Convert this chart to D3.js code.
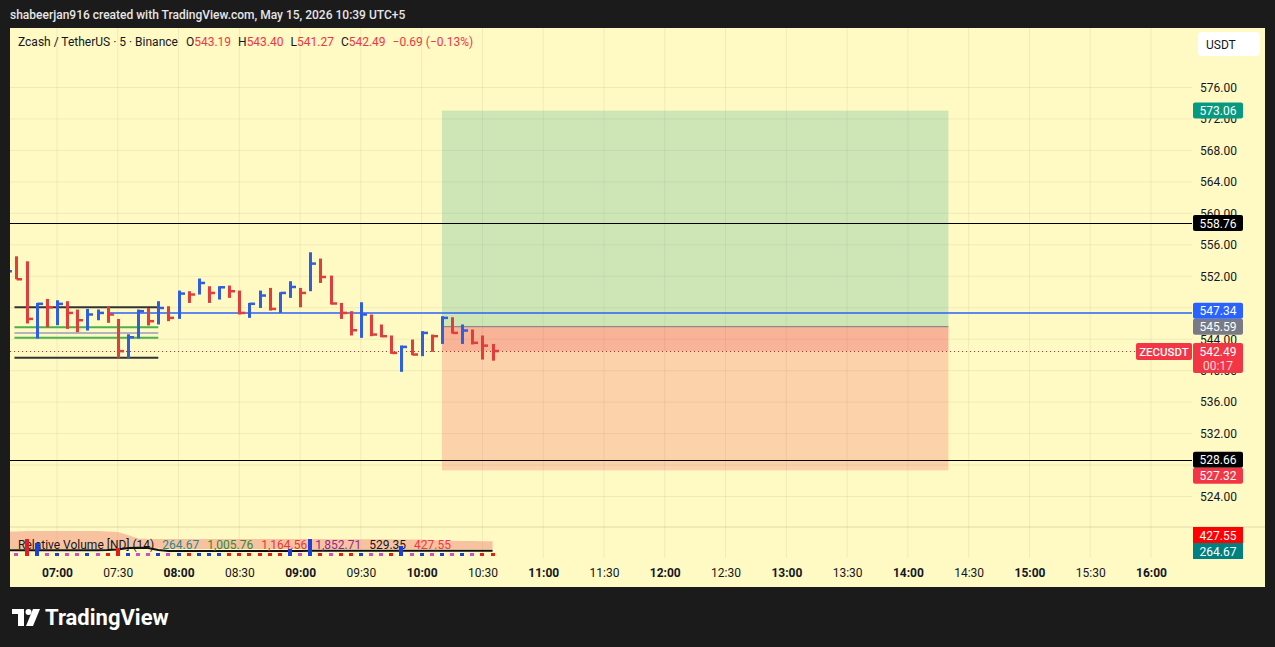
<!DOCTYPE html>
<html>
<head>
<meta charset="utf-8">
<script src="https://cdn.jsdelivr.net/npm/d3@7"></script>
<style>
  body { margin: 0; background: #1b1b1b; }
  svg { display: block; font-family: Roboto, "Noto Sans", sans-serif; }
</style>
</head>
<body>
<div id="vis"></div>
<script>
// Chart size
const width = 1275;
const height = 647;

// 5 minute HLC bars, ZEC/USDT
const barTimes = ['06:35','06:40','06:45','06:50','06:55','07:00','07:05','07:10','07:15','07:20',
    '07:25','07:30','07:35','07:40','07:45','07:50','07:55','08:00','08:05','08:10',
    '08:15','08:20','08:25','08:30','08:35','08:40','08:45','08:50','08:55','09:00',
    '09:05','09:10','09:15','09:20','09:25','09:30','09:35','09:40','09:45','09:50',
    '09:55','10:00','10:05','10:10','10:15','10:20','10:25','10:30','10:35'];
const highs = [553.30,554.54,553.90,548.61,549.12,548.95,548.83,547.77,547.85,547.77,
    548.19,546.58,544.63,547.77,547.97,548.83,548.19,550.18,550.10,551.71,
    550.73,550.73,550.82,550.18,548.61,550.18,550.52,549.97,551.37,550.52,
    555.05,554.25,552.09,548.61,547.56,548.70,547.14,545.87,544.47,543.20,
    543.96,545.02,544.59,546.92,546.79,545.87,545.23,544.47,543.40];
const lows = [551.90,551.62,546.00,544.09,545.52,545.78,545.31,544.89,545.10,546.41,
    546.08,541.63,541.59,544.09,545.74,545.87,546.29,546.58,548.61,549.68,
    548.61,549.04,549.25,547.14,546.71,547.97,547.64,547.34,549.25,548.06,
    550.10,551.15,548.41,546.58,544.47,544.17,544.38,544.25,542.14,539.85,
    541.97,541.84,542.39,543.40,544.72,543.40,543.33,541.41,541.27];
const closes = [552.63,551.62,546.58,548.50,548.06,548.49,547.34,546.41,547.14,547.34,
    547.14,542.48,544.25,547.56,546.29,547.97,546.71,549.80,549.68,551.15,
    549.88,550.60,550.10,547.34,548.50,549.55,547.85,549.88,550.64,549.88,
    553.61,551.91,548.54,547.34,545.14,547.14,544.59,544.38,542.26,543.02,
    542.05,544.80,544.38,546.71,544.80,545.10,543.54,543.18,542.49];
const priorClose = 552.20;

// Relative volume pane
const relVolume = [0.3,0.3,1.7,1.3,0.3,0.3,0.3,0.3,0.3,0.3,
    0.3,0.8,0.3,0.3,0.3,0.3,0.3,0.3,0.3,0.3,
    0.3,0.3,0.3,0.3,0.3,0.3,0.3,0.3,0.7,0.3,
    1.7,0.3,0.3,0.3,0.3,0.3,0.3,0.3,0.3,1.0,
    0.3,0.3,0.3,0.3,0.3,0.3,0.3,0.3,0.3];
const volKind = ['low','low','down','up','low','up','low','low','up','low',
    'down','down','up','low','low','up','low','up','down','up',
    'up','up','down','down','down','down','down','down','up','low',
    'up','down','low','down','down','up','low','low','down','up',
    'low','up','low','up','low','up','low','down','down'];
const bandUpper = [2.45,2.45,2.5,2.5,2.5,2.5,2.5,2.5,2.5,2.5,
    2.45,2.4,2.1,1.75,1.7,1.7,1.7,1.7,1.7,1.7,
    1.7,1.7,1.7,1.7,1.7,1.7,1.7,1.7,1.7,1.7,
    1.7,1.7,1.68,1.68,1.68,1.68,1.68,1.67,1.67,1.66,
    1.66,1.65,1.6,1.55,1.52,1.5,1.5,1.48,1.48];
const bandLower = [0.7,0.7,0.7,0.7,0.7,0.7,0.7,0.7,0.7,0.7,
    0.7,0.72,0.85,0.9,0.85,0.75,0.7,0.7,0.7,0.7,
    0.7,0.7,0.7,0.7,0.7,0.7,0.7,0.7,0.7,0.7,
    0.7,0.7,0.7,0.7,0.7,0.7,0.7,0.7,0.7,0.7,
    0.7,0.7,0.7,0.7,0.7,0.7,0.7,0.7,0.7];
const rvLine = [0.58,0.58,0.58,0.58,0.58,0.58,0.58,0.58,0.58,0.58,
    0.6,0.65,0.8,0.82,0.8,0.6,0.5,0.5,0.5,0.5,
    0.5,0.5,0.5,0.5,0.5,0.5,0.5,0.5,0.5,0.5,
    0.52,0.52,0.52,0.52,0.52,0.52,0.52,0.52,0.52,0.52,
    0.52,0.52,0.52,0.52,0.52,0.52,0.52,0.52,0.52];
const rvLegend = [
    {text: '264.67', color: '#26898a'},
    {text: '1,005.76', color: '#2e8b36'},
    {text: '1,164.56', color: '#e53935'},
    {text: '1,852.71', color: '#8e2a8e'},
    {text: '529.35', color: '#131722'},
    {text: '427.55', color: '#f23645'}
];
const rvAxisLabels = [
    {text: '427.55', level: 2.1, color: '#ff0000'},
    {text: '264.67', level: 0.5, color: '#008080'}
];

// Price axis ticks and time axis ticks
const priceTicks = [524,528,532,536,540,544,548,552,556,560,564,568,572,576];
const timeTicks = ['07:00','07:30','08:00','08:30','09:00','09:30','10:00','10:30','11:00',
    '11:30','12:00','12:30','13:00','13:30','14:00','14:30','15:00','15:30','16:00'];

// Drawings
const hLines = [558.76, 528.66];
const blueLine = {price: 547.34, from: '07:25'};
const zoneLines = [
    {price: 548.06, color: '#333333'},
    {price: 545.52, color: '#4caf50'},
    {price: 544.80, color: '#b2b5be'},
    {price: 544.17, color: '#4caf50'},
    {price: 541.63, color: '#333333'}
];
const zoneFrom = '06:39', zoneTo = '07:50';
const position = {from: '10:10', to: '14:20', entry: 545.59, target: 573.06, stop: 527.32};
const lastPrice = 542.49;
const countdown = '00:17';

// Price axis value labels
const priceLabels = [
    {price: 573.06, color: '#089981'},
    {price: 558.76, color: '#000000'},
    {price: 547.34, color: '#2962ff'},
    {price: 545.59, color: '#787b86'},
    {price: 528.66, color: '#000000'},
    {price: 527.32, color: '#f23645'}
];

// Layout of the frame
const plot = {left: 10, right: 1192, top: 28, mainBottom: 527, volBottom: 558, bottom: 587, frameRight: 1265};
const red = '#e23d3d';
const blue = '#2d5fe0';

const parseT = d3.timeParse('%H:%M');
const svg = d3.select('#vis')
    .append('svg')
    .attr('width', width)
    .attr('height', height);

// Scales
let xScale = d3.scaleTime()
    .domain([parseT('07:00'), parseT('16:00')])
    .range([57, 1151]);

let yScale = d3.scaleLinear()
    .domain([576, 524])
    .range([87.5, 496.5]);

let vScale = d3.scaleLinear()
    .domain([0, 3])
    .range([556, 526]);

// Background
svg.append('rect').attr('width', width).attr('height', height).attr('fill', '#1b1b1b');
svg.append('text')
    .attr('x', 10).attr('y', 18.5)
    .attr('fill', '#e6e6e6')
    .attr('font-size', 12)
    .attr('font-weight', 500)
    .text('shabeerjan916 created with TradingView.com, May 15, 2026 10:39 UTC+5');

svg.append('rect')
    .attr('x', plot.left).attr('y', plot.top)
    .attr('width', plot.frameRight - plot.left)
    .attr('height', plot.bottom - plot.top)
    .attr('fill', '#fff9c4');

const defs = svg.append('defs');
defs.append('clipPath').attr('id', 'mainClip')
    .append('rect')
    .attr('x', plot.left).attr('y', plot.top)
    .attr('width', plot.right - plot.left).attr('height', plot.mainBottom - plot.top);

// Grid
const grid = svg.append('g').attr('stroke', '#000').attr('stroke-opacity', 0.06);
grid.selectAll('.hgrid')
    .data(priceTicks)
    .join('line')
    .attr('x1', plot.left).attr('x2', plot.right)
    .attr('y1', d => yScale(d)).attr('y2', d => yScale(d));
grid.selectAll('.vgrid')
    .data(timeTicks)
    .join('line')
    .attr('x1', d => xScale(parseT(d))).attr('x2', d => xScale(parseT(d)))
    .attr('y1', plot.top).attr('y2', plot.volBottom);

// Pane separator
svg.append('line')
    .attr('x1', plot.left).attr('x2', plot.frameRight)
    .attr('y1', plot.mainBottom).attr('y2', plot.mainBottom)
    .attr('stroke', '#000').attr('stroke-opacity', 0.12);

const main = svg.append('g').attr('clip-path', 'url(#mainClip)');

// Long position tool
const px1 = xScale(parseT(position.from));
const px2 = xScale(parseT(position.to));
main.append('rect')
    .attr('x', px1).attr('width', px2 - px1)
    .attr('y', yScale(position.target))
    .attr('height', yScale(position.entry) - yScale(position.target))
    .attr('fill', 'rgba(8,153,129,0.2)');
main.append('rect')
    .attr('x', px1).attr('width', px2 - px1)
    .attr('y', yScale(position.entry))
    .attr('height', yScale(position.stop) - yScale(position.entry))
    .attr('fill', 'rgba(242,54,69,0.2)');
main.append('rect')
    .attr('x', px1).attr('width', px2 - px1)
    .attr('y', yScale(position.entry))
    .attr('height', yScale(lastPrice) - yScale(position.entry))
    .attr('fill', 'rgba(242,54,69,0.2)');
main.append('line')
    .attr('x1', px1).attr('x2', px2)
    .attr('y1', yScale(position.entry)).attr('y2', yScale(position.entry))
    .attr('stroke', '#787b86').attr('stroke-width', 1);

// Horizontal lines
main.selectAll('.hline')
    .data(hLines)
    .join('line')
    .attr('x1', plot.left).attr('x2', plot.right)
    .attr('y1', d => Math.round(yScale(d)) + 0.5).attr('y2', d => Math.round(yScale(d)) + 0.5)
    .attr('stroke', '#000').attr('stroke-width', 1);

main.append('line')
    .attr('x1', xScale(parseT(blueLine.from))).attr('x2', plot.right)
    .attr('y1', Math.round(yScale(blueLine.price)))
    .attr('y2', Math.round(yScale(blueLine.price)))
    .attr('stroke', '#2962ff').attr('stroke-width', 1.4);

main.selectAll('.zone')
    .data(zoneLines)
    .join('line')
    .attr('x1', xScale(parseT(zoneFrom))).attr('x2', xScale(parseT(zoneTo)))
    .attr('y1', d => yScale(d.price)).attr('y2', d => yScale(d.price))
    .attr('stroke', d => d.color).attr('stroke-width', 2);

// Last price dotted line
main.append('line')
    .attr('x1', plot.left).attr('x2', 1136)
    .attr('y1', Math.round(yScale(lastPrice)) + 0.5)
    .attr('y2', Math.round(yScale(lastPrice)) + 0.5)
    .attr('stroke', '#a33a2a').attr('stroke-width', 1)
    .attr('stroke-dasharray', '1,3');

// HLC bars
const bars = barTimes.map((t, i) => ({
    t: parseT(t),
    h: highs[i], l: lows[i], c: closes[i],
    up: closes[i] >= (i === 0 ? priorClose : closes[i - 1])
}));

main.selectAll('.bar')
    .data(bars)
    .join('line')
    .attr('x1', d => Math.round(xScale(d.t)) + 0.5)
    .attr('x2', d => Math.round(xScale(d.t)) + 0.5)
    .attr('y1', d => yScale(d.h)).attr('y2', d => yScale(d.l))
    .attr('stroke', d => d.up ? blue : red)
    .attr('stroke-width', 3);

main.selectAll('.tick-c')
    .data(bars)
    .join('line')
    .attr('x1', d => Math.round(xScale(d.t)) + 0.5)
    .attr('x2', d => Math.round(xScale(d.t)) + 6)
    .attr('y1', d => yScale(d.c)).attr('y2', d => yScale(d.c))
    .attr('stroke', d => d.up ? blue : red)
    .attr('stroke-width', 2.5);

// Relative volume pane
const vol = svg.append('g');
const rv = barTimes.map((t, i) => ({t: parseT(t), v: relVolume[i], k: volKind[i], hi: bandUpper[i], lo: bandLower[i], m: rvLine[i]}));

vol.append('path')
    .datum(rv)
    .attr('fill', 'rgba(239,120,110,0.42)')
    .attr('d', d3.area()
        .x(d => Math.max(plot.left, xScale(d.t)))
        .y0(d => vScale(d.lo))
        .y1(d => vScale(d.hi)));

vol.append('path')
    .datum(rv)
    .attr('fill', 'none')
    .attr('stroke', '#111')
    .attr('stroke-width', 2)
    .attr('d', d3.line()
        .x(d => Math.max(plot.left, xScale(d.t)))
        .y(d => vScale(d.m)));

// Legend for relative volume
const rvText = vol.append('text')
    .attr('x', 18).attr('y', 549)
    .attr('font-size', 12);
rvText.append('tspan').attr('fill', '#131722').text('Relative Volume [ND] (14)');
rvLegend.forEach(d => {
    rvText.append('tspan').attr('dx', 8).attr('fill', d.color).text(d.text);
});

const volColor = {low: '#d04fc9', up: '#1e3fd8', down: '#e01e1e'};
vol.selectAll('.vbar')
    .data(rv.filter(d => xScale(d.t) > plot.left + 2))
    .join('rect')
    .attr('x', d => Math.round(xScale(d.t)) - 2)
    .attr('width', 4)
    .attr('y', d => vScale(d.v))
    .attr('height', d => vScale(0) - vScale(d.v))
    .attr('fill', d => volColor[d.k]);

// Header legend
const legend = svg.append('text')
    .attr('x', 18).attr('y', 46)
    .attr('font-size', 12)
    .attr('fill', '#131722');
legend.append('tspan').text('Zcash / TetherUS · 5 · Binance');
const ohlc = [['O', '543.19'], ['H', '543.40'], ['L', '541.27'], ['C', '542.49']];
ohlc.forEach((d, i) => {
    legend.append('tspan').attr('dx', i === 0 ? 8 : 7).text(d[0]);
    legend.append('tspan').attr('fill', '#f23645').text(d[1]);
});
legend.append('tspan').attr('dx', 7).attr('fill', '#f23645').text('−0.69 (−0.13%)');

// Price labels: the one nearest the last price stays, the others are pushed away from it
const labelH = 16;
const ly = yScale(lastPrice);
let pl = priceLabels.map(d => ({...d, y: yScale(d.price)}));
const above = pl.filter(d => d.y < ly).sort((a, b) => b.y - a.y);
const below = pl.filter(d => d.y >= ly).sort((a, b) => a.y - b.y);
for (let i = 1; i < above.length; i++) {
    if (above[i - 1].y - above[i].y < labelH) above[i].y = above[i - 1].y - labelH;
}
for (let i = 1; i < below.length; i++) {
    if (below[i].y - below[i - 1].y < labelH) below[i].y = below[i - 1].y + labelH;
}
pl = above.concat(below);

// Price axis: tick labels sitting right under a value label are hidden
const covered = p => pl.some(d => Math.abs(d.y - yScale(p)) < 8);
svg.append('g')
    .attr('class', 'y axis')
    .attr('transform', 'translate(1200,0)')
    .call(d3.axisRight(yScale).tickValues(priceTicks.filter(p => !covered(p))).tickFormat(d3.format('.2f')).tickSize(0).tickPadding(0))
    .call(g => g.select('.domain').remove())
    .selectAll('text')
    .attr('font-size', 12)
    .attr('font-family', 'Roboto, "Noto Sans", sans-serif')
    .attr('fill', '#131722');

// USDT box
svg.append('rect')
    .attr('x', 1198).attr('y', 32).attr('width', 62).attr('height', 24).attr('rx', 4)
    .attr('fill', '#ffffff');
svg.append('text')
    .attr('x', 1206).attr('y', 48.5)
    .attr('font-size', 12).attr('fill', '#131722')
    .text('USDT');

const lab = svg.append('g');
lab.selectAll('rect')
    .data(pl)
    .join('rect')
    .attr('x', 1193).attr('width', 50)
    .attr('y', d => d.y - labelH / 2).attr('height', labelH)
    .attr('rx', 2)
    .attr('fill', d => d.color);
lab.selectAll('text')
    .data(pl)
    .join('text')
    .attr('x', 1218).attr('y', d => d.y + 4.5)
    .attr('text-anchor', 'middle')
    .attr('font-size', 12)
    .attr('fill', '#fff')
    .text(d => d.price.toFixed(2));

// Last price label with countdown and symbol tag
svg.append('rect')
    .attr('x', 1193).attr('width', 50).attr('y', ly - 8).attr('height', 30).attr('rx', 2)
    .attr('fill', '#f23645');
svg.append('text')
    .attr('x', 1218).attr('y', ly + 4.5).attr('text-anchor', 'middle')
    .attr('font-size', 12).attr('fill', '#fff')
    .text(lastPrice.toFixed(2));
svg.append('text')
    .attr('x', 1218).attr('y', ly + 18.5).attr('text-anchor', 'middle')
    .attr('font-size', 12).attr('fill', '#ffd6d9')
    .text(countdown);
svg.append('rect')
    .attr('x', 1136).attr('width', 56).attr('y', ly - 8).attr('height', 17).attr('rx', 2)
    .attr('fill', '#f23645');
svg.append('text')
    .attr('x', 1164).attr('y', ly + 4.5).attr('text-anchor', 'middle')
    .attr('font-size', 11.5).attr('font-weight', 500).attr('fill', '#fff')
    .text('ZECUSDT');

// Relative volume axis labels
const rl = svg.append('g');
rl.selectAll('rect')
    .data(rvAxisLabels)
    .join('rect')
    .attr('x', 1193).attr('width', 50)
    .attr('y', d => vScale(d.level) - 8).attr('height', 16)
    .attr('fill', d => d.color);
rl.selectAll('text')
    .data(rvAxisLabels)
    .join('text')
    .attr('x', 1218).attr('y', d => vScale(d.level) + 4.5)
    .attr('text-anchor', 'middle')
    .attr('font-size', 12).attr('fill', '#fff')
    .text(d => d.text);

// Time axis
svg.append('g')
    .attr('class', 'x axis')
    .attr('transform', 'translate(0,568)')
    .call(d3.axisBottom(xScale).tickValues(timeTicks.map(parseT)).tickFormat(d3.timeFormat('%H:%M')).tickSize(0).tickPadding(0))
    .call(g => g.select('.domain').remove())
    .selectAll('text')
    .attr('font-size', 12)
    .attr('font-family', 'Roboto, "Noto Sans", sans-serif')
    .attr('fill', '#131722')
    .attr('font-weight', d => d.getMinutes() === 0 ? 700 : 400);

// TradingView logo
const logo = svg.append('g').attr('fill', '#ffffff');
logo.append('path').attr('d', 'M12 609 H24 V626 H18 V614 H12 Z');
logo.append('circle').attr('cx', 28.5).attr('cy', 612).attr('r', 3);
logo.append('path').attr('d', 'M33 609 H40 L33 626 H26 Z');
svg.append('text')
    .attr('x', 45).attr('y', 625)
    .attr('font-size', 22).attr('font-weight', 700)
    .attr('fill', '#ffffff')
    .text('TradingView');
</script>
</body>
</html>
